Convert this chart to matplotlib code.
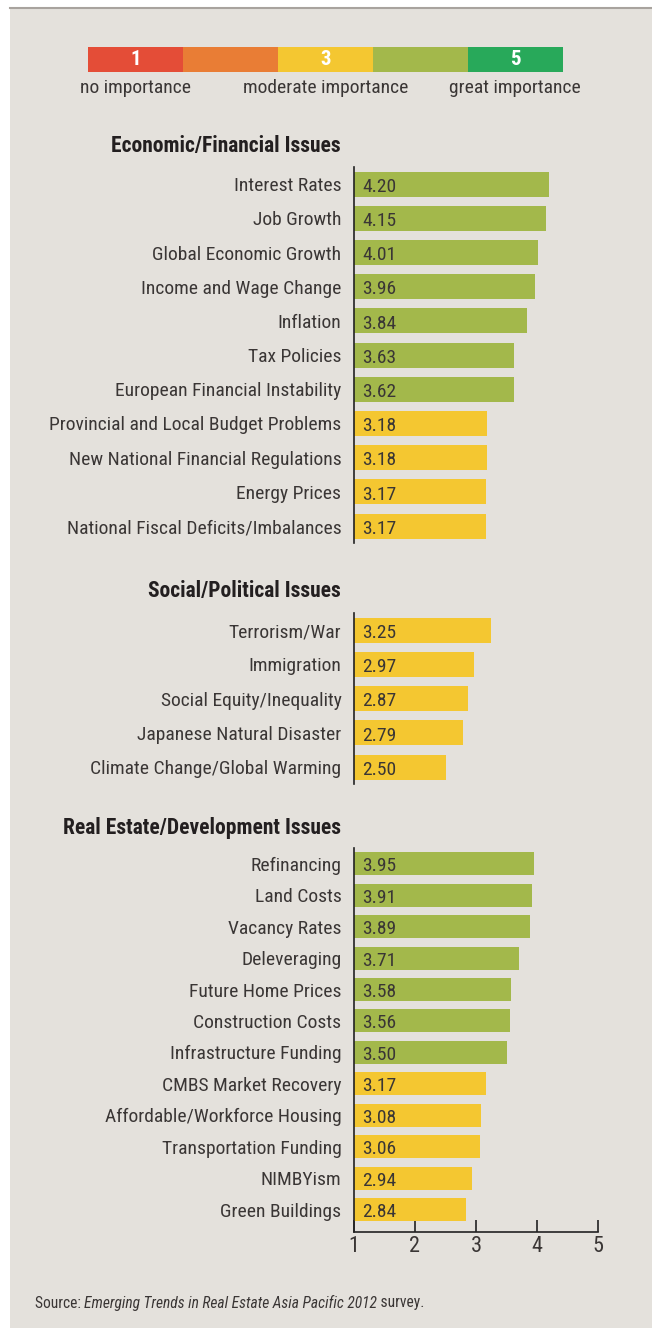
import matplotlib
matplotlib.use("Agg")
import matplotlib.pyplot as plt
from matplotlib.patches import Rectangle

plt.rcParams['font.family'] = ['Roboto Condensed', 'Barlow Condensed', 'DejaVu Sans']

# data
econ_labels = ["Interest Rates", "Job Growth", "Global Economic Growth", "Income and Wage Change",
               "Inflation", "Tax Policies", "European Financial Instability",
               "Provincial and Local Budget Problems", "New National Financial Regulations",
               "Energy Prices", "National Fiscal Deficits/Imbalances"]
econ_values = [4.20, 4.15, 4.01, 3.96, 3.84, 3.63, 3.62, 3.18, 3.18, 3.17, 3.17]

social_labels = ["Terrorism/War", "Immigration", "Social Equity/Inequality",
                 "Japanese Natural Disaster", "Climate Change/Global Warming"]
social_values = [3.25, 2.97, 2.87, 2.79, 2.50]

re_labels = ["Refinancing", "Land Costs", "Vacancy Rates", "Deleveraging", "Future Home Prices",
             "Construction Costs", "Infrastructure Funding", "CMBS Market Recovery",
             "Affordable/Workforce Housing", "Transportation Funding", "NIMBYism", "Green Buildings"]
re_values = [3.95, 3.91, 3.89, 3.71, 3.58, 3.56, 3.50, 3.17, 3.08, 3.06, 2.94, 2.84]

scale_numbers = ["1", "", "3", "", "5"]
scale_colors = ["#E44D37", "#E97D35", "#F4C731", "#A3B84B", "#28A95A"]
scale_texts = ["no importance", "moderate importance", "great importance"]
x_ticks = [1, 2, 3, 4, 5]

W, H = 652, 1328
BG = "#E4E1DC"
TXT = "#3A3635"

fig = plt.figure(figsize=(W / 100, H / 100), dpi=100)
fig.patch.set_facecolor("white")


def box(x, y, w, h):
    # pixel box (top-left origin) -> figure fraction
    return [x / W, 1 - (y + h) / H, w / W, h / H]


fig.patches.append(Rectangle((10 / W, 0), 1 - 10 / W, 1 - 8 / H, transform=fig.transFigure,
                             facecolor=BG, edgecolor="none", zorder=-10))
fig.lines.append(plt.Line2D([10 / W, 1], [1 - 8 / H, 1 - 8 / H], transform=fig.transFigure,
                            color="#A8A39E", lw=1.5, zorder=-5))

# importance scale legend
lax = fig.add_axes(box(88, 47, 475, 25))
lax.bar(range(5), [1] * 5, width=1.0, color=scale_colors, align="edge")
for i, s in enumerate(scale_numbers):
    lax.text(i + 0.5, 0.5, s, ha="center", va="center", color="white",
             fontsize=15, fontweight="bold")
lax.set_xlim(0, 5)
lax.set_ylim(0, 1)
lax.axis("off")
for xc, s in zip([135, 326, 515], scale_texts):
    fig.text(xc / W, 1 - 88 / H, s, ha="center", va="center", fontsize=14, color=TXT)


def bar_color(v):
    # colour of the nearest point on the 1-5 scale (halves round up)
    return scale_colors[int(v + 0.5) - 1]


def section(top, spacing, labels, values, header, header_y, bottom_extra=0.5, show_x=False):
    n = len(labels)
    span = n + bottom_extra - 0.5
    ax = fig.add_axes(box(354, top, 244, span * spacing))
    ax.set_facecolor("none")
    ys = list(range(n))
    ax.barh(ys, [v - 1 for v in values], left=1, height=0.73,
            color=[bar_color(v) for v in values], zorder=2)
    for y, v in zip(ys, values):
        ax.text(1.13, y + 0.08, f"{v:.2f}", ha="left", va="center", fontsize=14, color=TXT, zorder=3)
    ax.set_yticks(ys)
    ax.set_yticklabels(labels, fontsize=14, color=TXT)
    ax.tick_params(axis="y", length=0, pad=9)
    ax.set_xlim(1, 5)
    ax.set_ylim(n - 1 + bottom_extra, -0.5)
    for s in ["top", "right"]:
        ax.spines[s].set_visible(False)
    ax.spines["left"].set_color("#222222")
    ax.spines["left"].set_linewidth(1.2)
    if show_x:
        ax.spines["bottom"].set_color("#222222")
        ax.spines["bottom"].set_linewidth(1.2)
        ax.set_xticks(x_ticks)
        ax.set_xticklabels([str(t) for t in x_ticks], fontsize=16, color=TXT)
        ax.tick_params(axis="x", direction="in", length=9, width=1.2, color="#222222", pad=3)
    else:
        ax.spines["bottom"].set_visible(False)
        ax.set_xticks([])
    fig.text(341 / W, 1 - header_y / H, header, ha="right", va="center",
             fontsize=15.5, fontweight="bold", color="#231F20")
    return ax


section(167, 34.2, econ_labels, econ_values, "Economic/Financial Issues", 146)
section(613, 34.25, social_labels, social_values, "Social/Political Issues", 591)
section(848, 31.45, re_labels, re_values, "Real Estate/Development Issues", 828,
        bottom_extra=0.7, show_x=True)

# source line with italic title
fig.canvas.draw()
renderer = fig.canvas.get_renderer()
x0 = 35 / W
yS = 1 - 1303 / H
parts = [("Source: ", "normal"), ("Emerging Trends in Real Estate Asia Pacific 2012", "italic"),
         (" survey.", "normal")]
for s, st in parts:
    t = fig.text(x0, yS, s, ha="left", va="center", fontsize=11.2, style=st, color=TXT)
    bb = t.get_window_extent(renderer=renderer)
    x0 += bb.width / W

fig.savefig("out.png", dpi=100, facecolor=fig.get_facecolor())
